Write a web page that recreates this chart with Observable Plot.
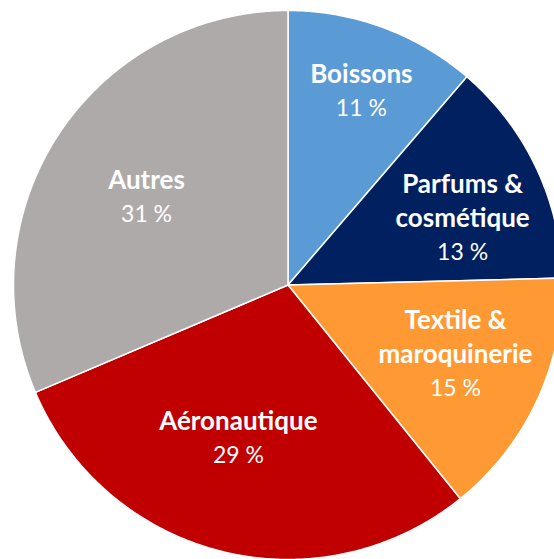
<!DOCTYPE html>
<html><head><meta charset="utf-8">
<script src="https://cdn.jsdelivr.net/npm/d3@7"></script>
<script src="https://cdn.jsdelivr.net/npm/@observablehq/plot@0.6"></script>
<style>html,body{margin:0;padding:0;overflow:hidden;background:#fff}</style>
</head><body><div id="chart"></div>
<script>
// Data
const categories = ["Boissons", "Parfums & cosmétique", "Textile & maroquinerie", "Aéronautique", "Autres"];
const categoryLabels = ["Boissons", "Parfums &\ncosmétique", "Textile &\nmaroquinerie", "Aéronautique", "Autres"];
const shares = [11.3, 13.3, 14.6, 29.4, 31.4];
const percentLabels = ["11 %", "13 %", "15 %", "29 %", "31 %"];
const colors = ["#5B9BD5", "#002060", "#FF9933", "#C00000", "#AEAAAA"];
// Label placement (layout): angle nudge from the slice mid-angle (deg), radius fraction
const labelNudge = [2.2, 14.8, 6.85, 2.2, -6.95];
const labelRadius = [0.697, 0.647, 0.717, 0.646, 0.576];

const total = d3.sum(shares);
let acc = 0;
const slices = shares.map((v, i) => {
  const a0 = acc / total * 360; acc += v; const a1 = acc / total * 360;
  return {i, cat: categories[i], a0, a1};
});
const pts = [];
for (const s of slices) {
  pts.push({cat: s.cat, x: 0, y: 0});
  const n = Math.max(2, Math.ceil((s.a1 - s.a0) / 0.5));
  for (let k = 0; k <= n; k++) {
    const a = (s.a0 + (s.a1 - s.a0) * k / n) * Math.PI / 180;
    pts.push({cat: s.cat, x: Math.sin(a), y: Math.cos(a)});
  }
  pts.push({cat: s.cat, x: 0, y: 0});
}
const labelData = slices.map((s, i) => {
  const a = ((s.a0 + s.a1) / 2 + labelNudge[i]) * Math.PI / 180;
  const r = labelRadius[i];
  return {x: r * Math.sin(a), y: r * Math.cos(a), name: categoryLabels[i], pct: percentLabels[i]};
});

const chart = Plot.plot({
  width: 554, height: 559, margin: 0,
  x: {domain: [-1, 1], range: [13, 562], axis: null},
  y: {domain: [-1, 1], range: [559, 10], axis: null},
  color: {domain: categories, range: colors},
  style: {overflow: "hidden", fontFamily: "Lato", background: "white"},
  marks: [
    Plot.line(pts, {x: "x", y: "y", z: "cat", fill: "cat", stroke: "white", strokeWidth: 1.5, strokeLinejoin: "round", curve: "linear"}),
    Plot.text(labelData, {x: "x", y: "y", text: "name", fill: "white", fontWeight: "bold", fontSize: 26, lineAnchor: "bottom", dy: -25, lineHeight: 1.31, fontFamily: "Lato"}),
    Plot.text(labelData, {x: "x", y: "y", text: "pct", fill: "white", fontSize: 23, lineAnchor: "middle", fontFamily: "Lato"})
  ]
});
document.getElementById("chart").append(chart);
</script>
</body></html>
